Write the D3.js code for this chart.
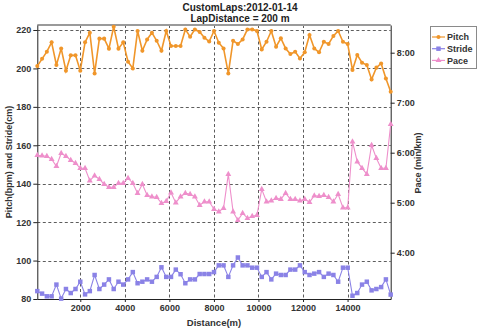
<!DOCTYPE html>
<html>
<head>
<meta charset="utf-8">
<script src="https://cdn.jsdelivr.net/npm/d3@7"></script>
<style>
  body { margin: 0; background: #fff; }
  svg { display: block; font-family: "Liberation Sans", Arial, sans-serif; }
</style>
</head>
<body>
<svg id="chart" width="480" height="329"></svg>
<script>
// Lap distances (m) for each 200 m custom lap
const distance = [70, 284, 499, 713, 928, 1142, 1356, 1571, 1785, 2000,
  2214, 2428, 2643, 2857, 3072, 3286, 3500, 3715, 3929, 4144,
  4358, 4572, 4787, 5001, 5216, 5430, 5644, 5859, 6073, 6288,
  6502, 6716, 6931, 7145, 7360, 7574, 7788, 8003, 8217, 8432,
  8646, 8860, 9075, 9289, 9504, 9718, 9932, 10147, 10361, 10576,
  10790, 11004, 11219, 11433, 11648, 11862, 12076, 12291, 12505, 12720,
  12934, 13148, 13363, 13577, 13792, 14006, 14220, 14435, 14649, 14864,
  15078, 15292, 15507, 15721, 15936];

// Cadence (steps per minute)
const pitch = [201.2, 205, 208.7, 213.6, 201.8, 210.4, 198.8, 206.8, 206.8, 198.8,
  213.6, 218.6, 197.4, 215.5, 215.5, 210.3, 221.7, 210.3, 213.6, 203.5,
  200, 219.5, 209.2, 215.1, 218.6, 214.4, 209.2, 219.5, 211.7, 211.7,
  211.7, 220.3, 216.5, 220.3, 219, 216, 214, 219.5, 213.4, 210.4,
  197.4, 214.4, 212.7, 215.1, 220.3, 220.3, 219.5, 209.9, 213.9, 219.5,
  211.3, 215.7, 210.4, 207.5, 208.7, 205.2, 208.4, 217.4, 210.4, 208.4,
  213.9, 212.7, 216.9, 219.5, 213.9, 212.7, 199.2, 207, 203, 201.8,
  194.3, 200.4, 202.6, 194.8, 187.9];

// Stride length (cm)
const stride = [84.1, 82.8, 81.4, 81.4, 87.5, 80.2, 85.2, 83.1, 85.2, 89,
  82.4, 84.1, 92.5, 85.2, 87.5, 90.2, 85.2, 89, 87.5, 90.2,
  94, 88.2, 89, 90.2, 89, 91.5, 96.5, 91.5, 91.5, 95.3,
  92.9, 88.2, 90.2, 90.2, 93, 93, 93, 94, 97.5, 97.5,
  91.5, 97.5, 101.6, 97.5, 97.5, 96.3, 96.3, 91.5, 94, 90.2,
  93.2, 92.5, 92.5, 95.3, 95.3, 97.5, 94, 92.5, 93.2, 94,
  91.5, 93.2, 92.5, 89, 96.3, 96.3, 81.7, 83.1, 87.5, 89,
  84.5, 85.2, 86.2, 90.2, 82.3];

// Pace (minutes per km)
const pace = [5.95, 5.94, 5.93, 5.87, 5.73, 5.99, 5.93, 5.85, 5.79, 5.69,
  5.69, 5.44, 5.54, 5.47, 5.37, 5.31, 5.31, 5.39, 5.39, 5.49,
  5.39, 5.19, 5.37, 5.15, 5.12, 5.11, 4.99, 5.03, 5.20, 5.00,
  5.12, 5.19, 5.17, 5.12, 4.95, 5.02, 5.02, 4.87, 4.82, 4.89,
  5.57, 4.82, 4.65, 4.79, 4.69, 4.73, 4.75, 5.27, 5.02, 5.04,
  5.09, 5.07, 5.19, 5.07, 5.07, 5.04, 5.07, 5.01, 5.14, 5.13,
  5.15, 5.11, 5.02, 5.17, 4.90, 4.90, 6.22, 5.82, 5.69, 5.57,
  6.15, 5.89, 5.69, 5.69, 6.57];

const distTicks = [2000, 4000, 6000, 8000, 10000, 12000, 14000];
const leftTicks = [80, 100, 120, 140, 160, 180, 200, 220];
const paceTicks = [4, 5, 6, 7, 8];
const seriesNames = ["Pitch", "Stride", "Pace"];

const titleLines = ["CustomLaps:2012-01-14", "LapDistance = 200 m"];

const colors = { Pitch: "#F0962A", Stride: "#8A82E6", Pace: "#EE8FCB" };
const symbols = { Pitch: d3.symbolCircle, Stride: d3.symbolSquare, Pace: d3.symbolTriangle };
const symSize = { Pitch: 13, Stride: 20, Pace: 15 };

const svg = d3.select("#chart");
const plot = { left: 37.3, right: 390.7, top: 25, bottom: 299 };

const x = d3.scaleLinear()
  .domain([distance[0], distance[distance.length - 1]])
  .range([plot.left, plot.right]);
const yL = d3.scaleLinear().domain([80, 222.6]).range([plot.bottom, plot.top]);
const yR = d3.scaleLinear().domain([3.074, 8.554]).range([plot.bottom, plot.top]);

const txt = "#333";

// Title
svg.append("g").selectAll("text").data(titleLines).join("text")
  .attr("x", 240).attr("y", (d, i) => 11 + i * 10.5)
  .attr("text-anchor", "middle")
  .attr("font-size", 10).attr("font-weight", "bold").attr("fill", "#222")
  .text(d => d);

// Grid
const grid = svg.append("g")
  .attr("stroke", "#333").attr("stroke-width", 0.8)
  .attr("stroke-dasharray", "3,2.5").attr("fill", "none");
grid.selectAll("line.h").data(leftTicks).join("line")
  .attr("class", "h")
  .attr("x1", plot.left).attr("x2", plot.right)
  .attr("y1", d => Math.round(yL(d)) + 0.5).attr("y2", d => Math.round(yL(d)) + 0.5);
grid.selectAll("line.v").data(distTicks).join("line")
  .attr("class", "v")
  .attr("x1", d => Math.round(x(d)) + 0.5).attr("x2", d => Math.round(x(d)) + 0.5)
  .attr("y1", plot.top).attr("y2", plot.bottom);

// Frame
svg.append("line")
  .attr("x1", plot.left).attr("x2", plot.right)
  .attr("y1", plot.top).attr("y2", plot.top)
  .attr("stroke", "#9a9a9a").attr("stroke-width", 2);

// Axes
function styleAxis(g) {
  g.selectAll("path").attr("stroke", "#222");
  g.selectAll("line").attr("stroke", "#222");
  g.selectAll("text").attr("fill", txt).attr("font-size", 9)
    .attr("font-weight", "bold").attr("font-family", "Liberation Sans, Arial, sans-serif");
}

svg.append("g")
  .attr("transform", `translate(${plot.left},0)`)
  .call(d3.axisLeft(yL).tickValues(leftTicks).tickSize(4).tickSizeOuter(0).tickPadding(2))
  .call(styleAxis);

svg.append("g")
  .attr("transform", `translate(${plot.right},0)`)
  .call(d3.axisRight(yR).tickValues(paceTicks).tickSize(4).tickSizeOuter(0).tickPadding(2)
    .tickFormat(d => d + ":00"))
  .call(styleAxis);

svg.append("g")
  .attr("transform", `translate(0,${plot.bottom})`)
  .call(d3.axisBottom(x).tickValues(distTicks).tickSize(3).tickSizeOuter(0).tickPadding(3)
    .tickFormat(d3.format("d")))
  .call(styleAxis);

// Axis titles
svg.append("text")
  .attr("transform", `translate(12,162) rotate(-90)`)
  .attr("text-anchor", "middle").attr("font-size", 9).attr("font-weight", "bold").attr("fill", txt)
  .text("Pitch(bpm) and Stride(cm)");
svg.append("text")
  .attr("transform", `translate(421,163) rotate(-90)`)
  .attr("text-anchor", "middle").attr("font-size", 9).attr("font-weight", "bold").attr("fill", txt)
  .text("Pace (min/km)");
svg.append("text")
  .attr("x", (plot.left + plot.right) / 2).attr("y", 326)
  .attr("text-anchor", "middle").attr("font-size", 9.5).attr("font-weight", "bold").attr("fill", txt)
  .text("Distance(m)");

// Series
const series = [
  { name: "Pitch", values: pitch, y: yL, width: 1.6 },
  { name: "Stride", values: stride, y: yL, width: 1.1 },
  { name: "Pace", values: pace, y: yR, width: 1.1 }
];

series.forEach(s => {
  const pts = distance.map((d, i) => [x(d), s.y(s.values[i])]);
  svg.append("path")
    .attr("d", d3.line()(pts))
    .attr("fill", "none").attr("stroke", colors[s.name]).attr("stroke-width", s.width);
  svg.append("g").selectAll("path").data(pts).join("path")
    .attr("transform", p => `translate(${p[0]},${p[1]})`)
    .attr("d", d3.symbol(symbols[s.name], symSize[s.name]))
    .attr("fill", colors[s.name]);
});

// Legend
const lg = svg.append("g");
lg.append("rect")
  .attr("x", 430.5).attr("y", 26.5).attr("width", 46).attr("height", 42)
  .attr("fill", "#fff").attr("stroke", "#8a8a8a");
seriesNames.forEach((n, i) => {
  const cy = 37 + i * 11.7;
  lg.append("line").attr("x1", 432).attr("x2", 445).attr("y1", cy).attr("y2", cy)
    .attr("stroke", colors[n]).attr("stroke-width", 1.2);
  lg.append("path").attr("transform", `translate(438.5,${cy})`)
    .attr("d", d3.symbol(symbols[n], symSize[n]))
    .attr("fill", colors[n]);
  lg.append("text").attr("x", 447).attr("y", cy + 3.3)
    .attr("font-size", 9).attr("font-weight", "bold").attr("fill", txt)
    .text(n);
});
</script>
</body>
</html>
